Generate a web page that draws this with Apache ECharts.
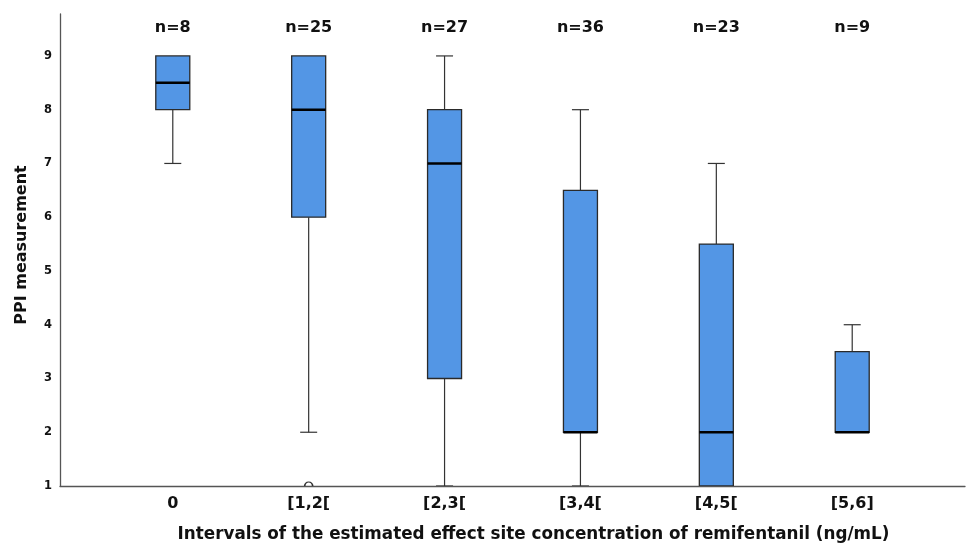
<!DOCTYPE html>
<html>
<head>
<meta charset="utf-8">
<script src="https://cdn.jsdelivr.net/npm/echarts@6/dist/echarts.min.js"></script>
<style>
html,body{margin:0;padding:0;background:#fff;}
#chart{width:966px;height:548px;}
</style>
</head>
<body>
<div id="chart"></div>
<script>
var categories = ['0', '[1,2[', '[2,3[', '[3,4[', '[4,5[', '[5,6]'];
var nCounts = [8, 25, 27, 36, 23, 9];
var whiskerLow = [7, 2, 1, 1, 1, 2];
var q1 = [8, 6, 3, 2, 1, 2];
var medians = [8.5, 8, 7, 2, 2, 2];
var q3 = [9, 9, 8, 6.5, 5.5, 3.5];
var whiskerHigh = [9, 9, 9, 8, 7, 4];
var outliers = [[1, 1]];
var yTicks = [1, 2, 3, 4, 5, 6, 7, 8, 9];

var N_LABEL_Y = 9.52;
var BOX_W = 34;
var CAP_W = 17;

var boxData = categories.map(function (c, i) {
  return [i, whiskerLow[i], q1[i], medians[i], q3[i], whiskerHigh[i]];
});
var nData = categories.map(function (c, i) { return [i, N_LABEL_Y, nCounts[i]]; });

var FONT = '"DejaVu Sans", "Liberation Sans", sans-serif';
var chart = echarts.init(document.getElementById('chart'), null, {renderer: 'canvas'});

function renderBox(params, api) {
  var x = api.value(0);
  var pLow = api.coord([x, api.value(1)]);
  var pQ1 = api.coord([x, api.value(2)]);
  var pMed = api.coord([x, api.value(3)]);
  var pQ3 = api.coord([x, api.value(4)]);
  var pHigh = api.coord([x, api.value(5)]);
  var cx = pLow[0];
  var lineStyle = {stroke: '#333', lineWidth: 1.2, fill: null};
  var children = [];
  if (pLow[1] !== pQ1[1]) {
    children.push({type: 'line', shape: {x1: cx, y1: pQ1[1], x2: cx, y2: pLow[1]}, style: lineStyle});
    children.push({type: 'line', shape: {x1: cx - CAP_W / 2, y1: pLow[1], x2: cx + CAP_W / 2, y2: pLow[1]}, style: lineStyle});
  }
  if (pHigh[1] !== pQ3[1]) {
    children.push({type: 'line', shape: {x1: cx, y1: pQ3[1], x2: cx, y2: pHigh[1]}, style: lineStyle});
    children.push({type: 'line', shape: {x1: cx - CAP_W / 2, y1: pHigh[1], x2: cx + CAP_W / 2, y2: pHigh[1]}, style: lineStyle});
  }
  children.push({
    type: 'rect',
    shape: {x: cx - BOX_W / 2, y: pQ3[1], width: BOX_W, height: pQ1[1] - pQ3[1]},
    style: {fill: '#5396e5', stroke: '#2a2a2a', lineWidth: 1.3}
  });
  children.push({type: 'line', shape: {x1: cx - BOX_W / 2, y1: pMed[1], x2: cx + BOX_W / 2, y2: pMed[1]}, style: {stroke: '#000', lineWidth: 2.5}});
  return {type: 'group', children: children};
}

chart.setOption({
  animation: false,
  backgroundColor: '#fff',
  grid: {left: 60, right: 1, top: 14, bottom: 62, containLabel: false, outerBoundsMode: 'none'},
  xAxis: {
    type: 'value',
    min: -0.83,
    max: 5.83,
    name: 'Intervals of the estimated effect site concentration of remifentanil (ng/mL)',
    nameLocation: 'middle',
    nameGap: 40,
    nameTextStyle: {fontFamily: FONT, fontWeight: 'bold', fontSize: 16.8, color: '#111', padding: [0, 0, 0, 42]},
    axisLine: {show: true, onZero: false, lineStyle: {color: '#555', width: 1.3}},
    axisTick: {show: false},
    splitLine: {show: false},
    axisLabel: {
      customValues: [0, 1, 2, 3, 4, 5],
      formatter: function (v) { return categories[Math.round(v)]; },
      fontFamily: FONT, fontWeight: 'bold', fontSize: 16, color: '#111', margin: 10
    }
  },
  yAxis: {
    type: 'value',
    min: 1,
    max: 9.78,
    name: 'PPI measurement',
    nameLocation: 'middle',
    nameGap: 30,
    nameTextStyle: {fontFamily: FONT, fontWeight: 'bold', fontSize: 16, color: '#111', padding: [0, 0, 0, 10]},
    axisLine: {show: true, onZero: false, lineStyle: {color: '#555', width: 1.3}},
    axisTick: {show: false},
    splitLine: {show: false},
    axisLabel: {
      customValues: yTicks,
      fontFamily: FONT, fontWeight: 'bold', fontSize: 11.5, color: '#111', margin: 8
    }
  },
  series: [
    {
      type: 'custom',
      renderItem: renderBox,
      data: boxData,
      encode: {x: 0, y: [1, 2, 3, 4, 5]},
      clip: true,
      z: 3
    },
    {
      type: 'scatter',
      data: outliers,
      symbol: 'path://M0,10A10,10,0,0,1,20,10',
      symbolSize: [8, 4],
      symbolOffset: [0, -2],
      itemStyle: {color: 'rgba(0,0,0,0)', borderColor: '#333', borderWidth: 1.2, opacity: 1},
      z: 2
    },
    {
      type: 'scatter',
      data: nData,
      symbolSize: 0,
      itemStyle: {opacity: 1},
      label: {
        show: true, position: 'inside',
        formatter: function (p) { return 'n=' + p.data[2]; },
        fontFamily: FONT, fontWeight: 'bold', fontSize: 16, color: '#111'
      },
      z: 4
    }
  ]
});
</script>
</body>
</html>
